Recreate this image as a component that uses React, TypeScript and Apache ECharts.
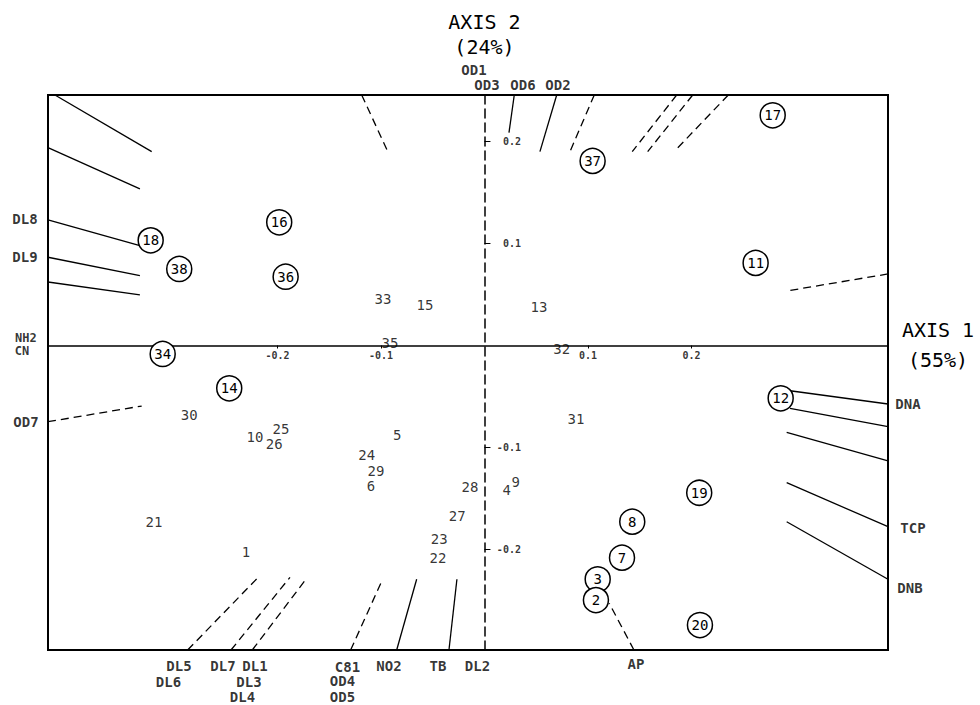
import React, { useEffect, useRef } from 'react';
import * as echarts from 'echarts';

// Axis extents (frame of the plot) and tick values
const X_MIN = -0.4217;
const X_MAX = 0.3899;
const Y_MIN = -0.2988;
const Y_MAX = 0.2458;
const tickValues = [-0.2, -0.1, 0.1, 0.2];

// Circled observations: [label, axis1, axis2]
const circledPoints: [string, number, number][] = [
  ['18', -0.3225, 0.1032],
  ['16', -0.1983, 0.1209],
  ['38', -0.2949, 0.0751],
  ['36', -0.1921, 0.0675],
  ['34', -0.3109, -0.0083],
  ['14', -0.2466, -0.042],
  ['37', 0.1045, 0.1811],
  ['17', 0.2785, 0.2259],
  ['11', 0.262, 0.081],
  ['12', 0.2862, -0.0518],
  ['19', 0.2075, -0.1445],
  ['8', 0.1428, -0.1729],
  ['7', 0.1329, -0.2082],
  ['3', 0.1094, -0.2294],
  ['2', 0.1077, -0.2498],
  ['20', 0.2082, -0.2743],
];

// Plain observations: [label, axis1, axis2]
const plainPoints: [string, number, number][] = [
  ['33', -0.0981, 0.0456],
  ['15', -0.0575, 0.0397],
  ['13', 0.0527, 0.0378],
  ['35', -0.0913, 0.0025],
  ['32', 0.0746, -0.0037],
  ['30', -0.2852, -0.0682],
  ['10', -0.2217, -0.0895],
  ['25', -0.1966, -0.0822],
  ['26', -0.2031, -0.097],
  ['21', -0.3193, -0.1729],
  ['1', -0.2304, -0.2029],
  ['5', -0.0843, -0.0878],
  ['24', -0.1138, -0.1078],
  ['29', -0.1048, -0.1229],
  ['6', -0.1097, -0.1376],
  ['28', -0.014, -0.1389],
  ['4', 0.0214, -0.1418],
  ['9', 0.0301, -0.1337],
  ['27', -0.0263, -0.1673],
  ['23', -0.0437, -0.1899],
  ['22', -0.0449, -0.2088],
  ['31', 0.0884, -0.0721],
];

// Variable vectors (solid): [x1, y1, x2, y2]
const solidVectors: [number, number, number, number][] = [
  [-0.415, 0.2458, -0.3215, 0.1902],
  [-0.4217, 0.1941, -0.3329, 0.1536],
  [-0.4217, 0.1232, -0.3329, 0.0979],
  [-0.4217, 0.0866, -0.3329, 0.0685],
  [-0.4217, 0.0623, -0.3329, 0.0496],
  [-0.0848, -0.2988, -0.0655, -0.2294],
  [-0.0343, -0.2988, -0.0266, -0.2294],
  [0.3899, -0.0574, 0.2952, -0.0444],
  [0.3899, -0.0797, 0.2952, -0.0616],
  [0.3899, -0.1131, 0.292, -0.0852],
  [0.3899, -0.1778, 0.292, -0.1346],
  [0.3899, -0.2294, 0.292, -0.1729],
  [0.0288, 0.2458, 0.0237, 0.2088],
  [0.0698, 0.2458, 0.0536, 0.1902],
];

// Variable vectors (dashed): [x1, y1, x2, y2]
const dashedVectors: [number, number, number, number][] = [
  [-0.4217, -0.0748, -0.3312, -0.0594],
  [-0.2868, -0.2988, -0.2186, -0.2275],
  [-0.2449, -0.2988, -0.1879, -0.2275],
  [-0.2243, -0.2988, -0.1718, -0.2285],
  [-0.1293, -0.2988, -0.0984, -0.2294],
  [0.1444, -0.2988, 0.1206, -0.253],
  [0.3899, 0.0702, 0.292, 0.0535],
  [-0.1186, 0.2458, -0.0929, 0.1892],
  [0.1061, 0.2458, 0.0826, 0.1902],
  [0.1857, 0.2458, 0.1428, 0.1902],
  [0.2012, 0.2458, 0.1577, 0.1902],
  [0.2356, 0.2458, 0.1841, 0.1912],
];

// Variable names: [label, axis1, axis2]
const variableLabels: [string, number, number][] = [
  ['DL8', -0.444, 0.1241],
  ['DL9', -0.444, 0.0868],
  ['OD7', -0.443, -0.0748],
  ['DL5', -0.2952, -0.3142],
  ['DL6', -0.3053, -0.3302],
  ['DL7', -0.2527, -0.3142],
  ['DL1', -0.2217, -0.3142],
  ['DL3', -0.2275, -0.3302],
  ['DL4', -0.2338, -0.3449],
  ['C81', -0.1324, -0.315],
  ['OD4', -0.1372, -0.3292],
  ['OD5', -0.1372, -0.3445],
  ['NO2', -0.0923, -0.3145],
  ['TB', -0.0449, -0.3145],
  ['DL2', -0.0068, -0.3145],
  ['AP', 0.1464, -0.3126],
  ['DNA', 0.4092, -0.0574],
  ['TCP', 0.414, -0.1786],
  ['DNB', 0.4111, -0.2375],
  ['OD1', -0.0101, 0.2704],
  ['OD3', 0.0024, 0.2556],
  ['OD6', 0.0372, 0.2556],
  ['OD2', 0.071, 0.2556],
];

// Tightly stacked names on axis 1: [label, axis1, axis2]
const axisNames: [string, number, number][] = [
  ['NH2', -0.443, 0.0075],
  ['CN', -0.4469, -0.0055],
];

const FONT = 'DejaVu Sans Mono';

export default function App() {
  const ref = useRef<HTMLDivElement>(null);

  useEffect(() => {
    document.body.style.margin = '0';
    if (!ref.current) return;
    const chart = echarts.init(ref.current, undefined, { renderer: 'svg' });
    const fmt = (v: number) => v.toFixed(1);
    const textLabel = (size: number, weight: string, extra: any = {}) => ({
      show: true,
      position: 'inside',
      formatter: (p: any) => p.data[2],
      fontSize: size,
      fontWeight: weight,
      color: '#000',
      fontFamily: FONT,
      ...extra,
    });
    const option: any = {
      animation: false,
      backgroundColor: '#fff',
      grid: {
        left: 48,
        right: 92,
        top: 95,
        bottom: 55,
        show: true,
        borderColor: '#000',
        borderWidth: 2,
        backgroundColor: 'transparent',
      },
      xAxis: {
        type: 'value',
        min: X_MIN,
        max: X_MAX,
        splitLine: { show: false },
        axisLine: { show: true, onZero: true, lineStyle: { color: '#000', width: 1.5 } },
        axisTick: { show: true, customValues: tickValues, length: 3, lineStyle: { color: '#000', width: 1 } },
        axisLabel: { show: false },
        name: 'AXIS 1\n(55%)',
        nameLocation: 'end',
        nameGap: 50,
        nameTextStyle: {
          align: 'center',
          verticalAlign: 'middle',
          fontSize: 20,
          lineHeight: 30,
          color: '#000',
          fontFamily: FONT,
        },
      },
      yAxis: {
        type: 'value',
        min: Y_MIN,
        max: Y_MAX,
        splitLine: { show: false },
        axisLine: { show: true, onZero: true, lineStyle: { color: '#000', width: 1.5, type: [9, 5] } },
        axisTick: { show: true, inside: true, customValues: tickValues, length: 6, lineStyle: { color: '#000', width: 1 } },
        axisLabel: { show: false },
        name: 'AXIS 2\n(24%)',
        nameLocation: 'end',
        nameGap: 36,
        nameTextStyle: {
          align: 'center',
          verticalAlign: 'bottom',
          fontSize: 20,
          lineHeight: 25,
          color: '#000',
          fontFamily: FONT,
        },
      },
      series: [
        {
          type: 'lines',
          coordinateSystem: 'cartesian2d',
          silent: true,
          clip: false,
          z: 2,
          lineStyle: { color: '#000', width: 1.3, opacity: 1, type: 'solid', curveness: 0 },
          data: solidVectors.map((v) => ({ coords: [[v[0], v[1]], [v[2], v[3]]] })),
        },
        {
          type: 'lines',
          coordinateSystem: 'cartesian2d',
          silent: true,
          clip: false,
          z: 2,
          lineStyle: { color: '#000', width: 1.3, opacity: 1, type: [8, 5], curveness: 0 },
          data: dashedVectors.map((v) => ({ coords: [[v[0], v[1]], [v[2], v[3]]] })),
        },
        {
          type: 'scatter',
          z: 4,
          silent: true,
          symbol: 'circle',
          symbolSize: 25,
          itemStyle: { color: '#fff', borderColor: '#000', borderWidth: 1.5, opacity: 1 },
          label: textLabel(14, 'normal'),
          data: circledPoints.map((p) => [p[1], p[2], p[0]]),
        },
        {
          type: 'scatter',
          z: 4,
          silent: true,
          symbolSize: 1,
          itemStyle: { color: 'rgba(0,0,0,0)' },
          label: textLabel(14, 'normal'),
          data: plainPoints.map((p) => [p[1], p[2], p[0]]),
        },
        {
          type: 'scatter',
          z: 4,
          silent: true,
          clip: false,
          symbolSize: 1,
          itemStyle: { color: 'rgba(0,0,0,0)' },
          label: textLabel(14, 'bold'),
          data: variableLabels.map((p) => [p[1], p[2], p[0]]),
        },
        {
          type: 'scatter',
          z: 4,
          silent: true,
          clip: false,
          symbolSize: 1,
          itemStyle: { color: 'rgba(0,0,0,0)' },
          label: textLabel(12, 'bold', { lineHeight: 12 }),
          data: axisNames.map((p) => [p[1], p[2], p[0]]),
        },
        {
          // tick labels of axis 1
          type: 'scatter',
          z: 4,
          silent: true,
          symbolSize: 1,
          itemStyle: { color: 'rgba(0,0,0,0)' },
          label: textLabel(10, 'bold', { position: 'bottom', distance: 5 }),
          data: tickValues.map((v) => [v, 0, fmt(v)]),
        },
        {
          // tick labels of axis 2 (right-aligned, right of the ticks)
          type: 'scatter',
          z: 4,
          silent: true,
          symbolSize: 1,
          itemStyle: { color: 'rgba(0,0,0,0)' },
          label: textLabel(10, 'bold', { position: [37, 0.5], align: 'right', verticalAlign: 'middle' }),
          data: tickValues.map((v) => [0, v, fmt(v)]),
        },
      ],
    };
    chart.setOption(option);
    return () => chart.dispose();
  }, []);

  return (
    <div
      ref={ref}
      style={{ position: 'absolute', left: 0, top: 0, width: 980, height: 705, background: '#fff' }}
    />
  );
}
